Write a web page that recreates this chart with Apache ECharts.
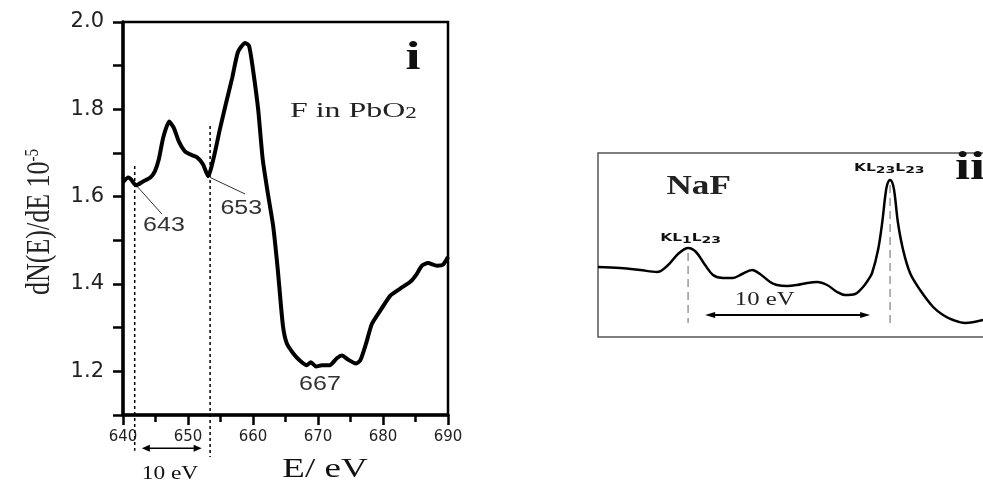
<!DOCTYPE html>
<html><head><meta charset="utf-8">
<script src="https://cdn.jsdelivr.net/npm/echarts@6/dist/echarts.min.js"></script>
<style>html,body{margin:0;padding:0;background:#fff}#c{width:983px;height:484px}</style>
</head><body><div id="c"></div>
<script>
// ---- Panel i : F in PbO2 (derivative Auger spectrum) ----
const energyPbO2 = [640.0,640.8,641.2,642.0,643.1,644.2,644.9,645.5,646.2,647.1,647.8,648.6,649.5,650.3,651.4,652.3,653.1,654.0,654.9,655.8,656.8,657.7,658.8,659.4,660.0,660.8,661.5,662.3,663.1,663.8,664.6,665.2,666.2,667.2,668.3,668.9,669.7,670.6,671.8,672.9,673.7,674.6,675.8,676.5,677.4,678.3,679.8,681.1,682.6,684.2,685.1,686.0,686.9,688.3,689.2,690.0];
const signalPbO2 = [1.633,1.644,1.640,1.626,1.635,1.644,1.658,1.685,1.736,1.772,1.758,1.726,1.704,1.697,1.690,1.674,1.647,1.692,1.754,1.811,1.872,1.932,1.952,1.945,1.891,1.799,1.685,1.606,1.533,1.435,1.305,1.264,1.241,1.225,1.214,1.221,1.211,1.214,1.214,1.230,1.236,1.227,1.218,1.225,1.264,1.309,1.344,1.373,1.389,1.405,1.421,1.442,1.448,1.442,1.444,1.462];
const xTickValues = [640,650,660,670,680,690];
const yTickLabels = ['1.2','1.4','1.6','1.8','2.0'];
const markerEnergies = [641.8, 653.4];          // dashed guide lines (10 eV apart)
const peakLabels = ['643','653','667'];

// ---- Panel ii : NaF ----
const energyNaF = [638.3,639.64,640.85,641.88,642.55,643.15,643.76,644.24,644.79,645.27,645.88,646.48,647.03,647.64,648.12,648.73,649.15,649.76,650.36,650.97,651.58,652.18,652.79,653.27,653.88,654.36,654.67,654.91,655.27,655.52,655.70,655.82,656.0,656.18,656.30,656.48,656.79,657.21,657.82,658.61,659.21,659.82,660.55,661.64];
const signalNaF = [7.0,6.9,6.7,6.5,7.2,8.3,8.9,8.5,7.2,6.2,5.9,5.9,6.3,6.7,6.3,5.5,5.2,5.1,5.2,5.4,5.5,5.2,4.5,4.2,4.3,5.0,5.7,6.4,8.7,11.4,14.0,15.2,15.7,15.2,14.0,11.4,8.7,6.4,4.7,3.0,2.2,1.7,1.4,1.7];
const nafPeaks = [643.76, 656.0];   // KL1L23, KL23L23

const chart = echarts.init(document.getElementById('c'), null, {renderer:'canvas'});
const zip = (a,b) => a.map((v,i)=>[v,b[i]]);

chart.setOption({
  backgroundColor:'#fff',
  animation:false,
  grid:[
    {left:123, right:535, top:22, bottom:69, show:true, borderColor:'#000', borderWidth:2.5, backgroundColor:'transparent', outerBoundsMode:'none', containLabel:false},
    {left:598, width:400, top:153, bottom:147, show:true, borderColor:'#555', borderWidth:1.5, backgroundColor:'transparent', outerBoundsMode:'none', containLabel:false}
  ],
  xAxis:[
    {gridIndex:0, type:'value', min:640, max:690, interval:10,
     axisLine:{show:true, onZero:false, lineStyle:{color:'#000', width:3.5}},
     axisTick:{show:true, length:10, lineStyle:{color:'#000', width:2.5}},
     minorTick:{show:true, splitNumber:2, length:7, lineStyle:{color:'#000', width:2.5}},
     splitLine:{show:false}, minorSplitLine:{show:false},
     axisLabel:{margin:15, fontFamily:'DejaVu Sans', fontSize:15, color:'#222',
       formatter:(v)=> xTickValues.includes(Math.round(v)) ? String(Math.round(v)) : ''}},
    {gridIndex:1, type:'value', min:638.3, max:662.54, show:false, splitLine:{show:false}}
  ],
  yAxis:[
    {gridIndex:0, type:'value', min:1.1, max:2.0, interval:0.1,
     axisLine:{show:true, onZero:false, lineStyle:{color:'#000', width:3.5}},
     axisTick:{show:true, length:10, lineStyle:{color:'#000', width:2.5}},
     splitLine:{show:false},
     axisLabel:{margin:19, fontFamily:'DejaVu Sans', fontSize:21, color:'#222',
       formatter:(v)=> yTickLabels.includes(v.toFixed(1)) ? v.toFixed(1) : ''}},
    {gridIndex:1, type:'value', min:0, max:18.4, show:false, splitLine:{show:false}}
  ],
  series:[
    {type:'line', xAxisIndex:0, yAxisIndex:0, data:zip(energyPbO2, signalPbO2),
     showSymbol:false, smooth:0.2, lineStyle:{color:'#000', width:4}, clip:false},
    {type:'line', xAxisIndex:1, yAxisIndex:1, data:zip(energyNaF, signalNaF),
     showSymbol:false, smooth:0.35, lineStyle:{color:'#000', width:2.5}}
  ]
});

const P0 = (x,y) => chart.convertToPixel({xAxisIndex:0, yAxisIndex:0}, [x,y]);
const P1 = (x,y) => chart.convertToPixel({xAxisIndex:1, yAxisIndex:1}, [x,y]);

function line(a,b,stroke,w,dash){
  return {type:'line', silent:true, shape:{x1:a[0],y1:a[1],x2:b[0],y2:b[1]},
          style:{stroke:stroke, lineWidth:w, lineDash:dash||null}};
}
function dblArrow(a,b,w,hl,hw){
  const y=a[1];
  return [
    line([a[0]+hl*0.6,y],[b[0]-hl*0.6,y],'#000',w),
    {type:'polygon', silent:true, shape:{points:[[a[0],y],[a[0]+hl,y-hw],[a[0]+hl,y+hw]]}, style:{fill:'#000'}},
    {type:'polygon', silent:true, shape:{points:[[b[0],y],[b[0]-hl,y-hw],[b[0]-hl,y+hw]]}, style:{fill:'#000'}}
  ];
}
function txt(x,y,text,opt){
  return {type:'text', silent:true, x:x, y:y, scaleX:opt.sx||1, scaleY:opt.sy||1, rotation:opt.rot||0,
    style:{text:text, fontFamily:opt.ff||'Liberation Serif', fontSize:opt.fs||16, fontWeight:opt.fw||'normal',
      fill:opt.color||'#111', align:opt.align||'center', verticalAlign:'middle', rich:opt.rich}};
}

const g = [];
// dashed guide lines panel i
g.push(line(P0(markerEnergies[0], 1.670), P0(markerEnergies[0], 1.018),'#000',1.5,[3,3]));
g.push(line(P0(markerEnergies[1], 1.762), P0(markerEnergies[1], 1.004),'#000',1.5,[3,3]));
g.push(...dblArrow(P0(642.9,1.024), P0(652.1,1.024), 1.5, 8, 3.5));
// leader lines and peak labels
g.push(line(P0(642.15,1.624), P0(646.0,1.560), '#333', 1));
g.push(line(P0(653.4,1.644), P0(658.8,1.606), '#333', 1));
const l643 = P0(646.3,1.533), l653 = P0(658.2,1.574), l667 = P0(670.3,1.170);
g.push(txt(l643[0],l643[1],peakLabels[0],{ff:'Liberation Sans',fs:20,sx:1.25,color:'#333'}));
g.push(txt(l653[0],l653[1],peakLabels[1],{ff:'Liberation Sans',fs:20,sx:1.25,color:'#333'}));
g.push(txt(l667[0],l667[1],peakLabels[2],{ff:'Liberation Sans',fs:20,sx:1.25,color:'#333'}));
// titles panel i
g.push(txt(413,59,'i',{fs:40,fw:'bold',sx:1.35}));
g.push(txt(290,111,'{a|F in PbO}{s|2}',{align:'left',sx:1.45,
  rich:{a:{fontFamily:'Liberation Serif',fontSize:22,fill:'#222'},s:{fontFamily:'Liberation Serif',fontSize:16,fill:'#222',verticalAlign:'bottom',padding:[6,0,0,0]}}}));
g.push(txt(325,470,'E/ eV',{fs:27,sx:1.37}));
g.push(txt(170,474,'10 eV',{fs:18,sx:1.3}));
g.push(txt(40,222,'{a|dN(E)/dE 10}{s|-5}',{rot:Math.PI/2,sy:1.3,
  rich:{a:{fontFamily:'Liberation Serif',fontSize:26,fill:'#222'},s:{fontFamily:'Liberation Serif',fontSize:15,fill:'#222',verticalAlign:'top',padding:[0,0,11,0]}}}));

// panel ii annotations
g.push(line(P1(nafPeaks[0], 8.4), P1(nafPeaks[0], 1.4),'#999',1.5,[8,5]));
g.push(line(P1(nafPeaks[1], 15.2), P1(nafPeaks[1], 1.4),'#999',1.5,[8,5]));
g.push(...dblArrow(P1(644.79,2.2), P1(654.79,2.2), 2, 10, 3));
const e10 = P1(648.4,3.7);
g.push(txt(e10[0],e10[1],'10 eV',{fs:19,sx:1.3,color:'#222'}));
const naf = P1(644.4,15.0);
g.push(txt(naf[0],naf[1],'NaF',{fs:27,fw:'bold',sx:1.3,color:'#222'}));
const kA = P1(nafPeaks[0]+0.15,9.9), kB = P1(nafPeaks[1]-0.05,16.9);
const krich = {k:{fontFamily:'DejaVu Sans',fontSize:10,fontWeight:'bold',fill:'#111'},
               s:{fontFamily:'DejaVu Sans',fontSize:9,fontWeight:'bold',fill:'#111',verticalAlign:'bottom',padding:[5,0,0,0]}};
g.push(txt(kA[0],kA[1],'{k|KL}{s|1}{k|L}{s|23}',{sx:1.55,rich:krich}));
g.push(txt(kB[0],kB[1],'{k|KL}{s|23}{k|L}{s|23}',{sx:1.55,rich:krich}));
g.push(txt(955,169,'ii',{fs:40,fw:'bold',sx:1.35,align:'left'}));

chart.setOption({graphic:g});
</script></body></html>
